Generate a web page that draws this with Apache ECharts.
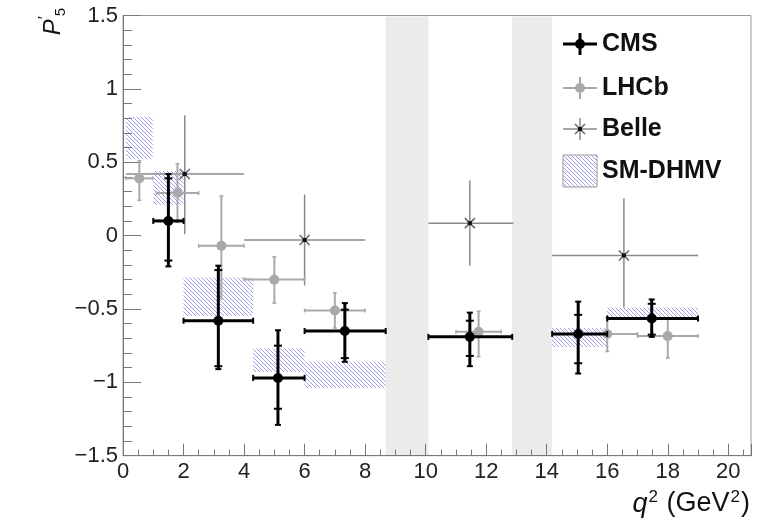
<!DOCTYPE html>
<html>
<head>
<meta charset="utf-8">
<script src="https://cdn.jsdelivr.net/npm/echarts@6/dist/echarts.min.js"></script>
<style>
  html, body { margin: 0; padding: 0; background: #fff; }
  #chart { width: 763px; height: 519px; }
</style>
</head>
<body>
<div id="chart"></div>
<script>
const FONT = '"Liberation Sans", Arial, Helvetica, sans-serif';

// Excluded q^2 regions (J/psi and psi(2S) resonances)
const vetoLo = [8.68, 12.86];
const vetoHi = [10.09, 14.18];

// CMS: mean q^2 in bin, bin edges, P5', statistical and total uncertainties
const cmsQ2     = [1.50, 3.15, 5.12, 7.33, 11.46, 15.04, 17.47];
const cmsLo     = [1.00, 2.00, 4.30, 6.00, 10.09, 14.18, 16.00];
const cmsHi     = [2.00, 4.30, 6.00, 8.68, 12.86, 16.00, 19.00];
const cmsP5     = [0.10, -0.58, -0.97, -0.65, -0.69, -0.67, -0.565];
const cmsStatUp = [0.29, 0.345, 0.22, 0.145, 0.11, 0.13, 0.10];
const cmsStatDn = [0.27, 0.31, 0.21, 0.185, 0.13, 0.20, 0.11];
const cmsTotUp  = [0.32, 0.375, 0.325, 0.19, 0.165, 0.22, 0.13];
const cmsTotDn  = [0.31, 0.33, 0.32, 0.21, 0.20, 0.27, 0.125];

// LHCb
const lhcbQ2 = [0.54, 1.80, 3.25, 5.00, 7.00, 11.75, 16.00, 18.00];
const lhcbLo = [0.10, 1.10, 2.50, 4.00, 6.00, 11.00, 15.00, 17.00];
const lhcbHi = [0.98, 2.50, 4.00, 6.00, 8.00, 12.50, 17.00, 19.00];
const lhcbP5 = [0.39, 0.29, -0.07, -0.30, -0.51, -0.655, -0.67, -0.685];
const lhcbUp = [0.12, 0.20, 0.34, 0.155, 0.12, 0.14, 0.11, 0.12];
const lhcbDn = [0.15, 0.20, 0.36, 0.16, 0.12, 0.17, 0.12, 0.15];

// Belle
const belleQ2 = [2.04, 6.00, 11.46, 16.55];
const belleLo = [0.10, 4.00, 10.09, 14.18];
const belleHi = [4.00, 8.00, 12.90, 19.00];
const belleP5 = [0.42, -0.03, 0.085, -0.135];
const belleUp = [0.40, 0.31, 0.29, 0.39];
const belleDn = [0.41, 0.31, 0.29, 0.355];

// SM prediction (DHMV): bin edges and band limits
const smLo  = [0.10, 1.00, 2.00, 4.30, 6.00, 14.18, 16.00];
const smHi  = [0.98, 2.00, 4.30, 6.00, 8.68, 16.00, 19.00];
const smMin = [0.52, 0.21, -0.548, -0.93, -1.04, -0.76, -0.575];
const smMax = [0.81, 0.44, -0.285, -0.77, -0.86, -0.63, -0.49];

// Axis ranges and tick steps
const xRange = [0, 20.75];
const yRange = [-1.5, 1.5];
const xMajor = 2, xMinor = 0.5, yMajor = 0.5;

const legendNames = ['CMS', 'LHCb', 'Belle', 'SM-DHMV'];

// diagonal blue hatch tile for the SM bands
function hatchTile() {
  const c = document.createElement('canvas');
  c.width = 4; c.height = 4;
  const g = c.getContext('2d');
  g.strokeStyle = 'rgba(95,95,220,0.6)';
  g.lineWidth = 1;
  g.beginPath();
  g.moveTo(-1, -1); g.lineTo(5, 5);
  g.moveTo(-1, 3); g.lineTo(1, 5);
  g.moveTo(3, -1); g.lineTo(5, 1);
  g.stroke();
  return c;
}
const hatch = { image: hatchTile(), repeat: 'repeat' };

function seg(x1, y1, x2, y2, color, w) {
  return { type: 'line', shape: { x1, y1, x2, y2 }, style: { stroke: color, lineWidth: w } };
}

function vetoItem(params, api) {
  const cs = params.coordSys;
  const x0 = api.coord([api.value(0), 0])[0];
  const x1 = api.coord([api.value(1), 0])[0];
  return { type: 'rect', shape: { x: x0, y: cs.y + 1, width: x1 - x0, height: cs.height - 1 },
           style: { fill: '#ebebeb' } };
}

function smItem(params, api) {
  const p0 = api.coord([api.value(0), api.value(3)]);
  const p1 = api.coord([api.value(1), api.value(2)]);
  return { type: 'rect', shape: { x: p0[0], y: p0[1], width: p1[0] - p0[0], height: p1[1] - p0[1] },
           style: { fill: hatch } };
}

// CMS row: [q2, P5, lo, hi, statUp, statDn, totUp, totDn]
function cmsItem(params, api) {
  const x = api.value(0), y = api.value(1);
  const c = api.coord([x, y]);
  const xl = api.coord([api.value(2), y])[0];
  const xr = api.coord([api.value(3), y])[0];
  const st = api.coord([x, y + api.value(4)])[1];
  const sb = api.coord([x, y - api.value(5)])[1];
  const yt = api.coord([x, y + api.value(6)])[1];
  const yb = api.coord([x, y - api.value(7)])[1];
  const k = '#000';
  return { type: 'group', children: [
    seg(xl, c[1], xr, c[1], k, 3),
    seg(c[0], yt, c[0], yb, k, 3),
    seg(xl, c[1] - 3, xl, c[1] + 3, k, 2),
    seg(xr, c[1] - 3, xr, c[1] + 3, k, 2),
    seg(c[0] - 3, yt, c[0] + 3, yt, k, 2),
    seg(c[0] - 3, yb, c[0] + 3, yb, k, 2),
    seg(c[0] - 4, st, c[0] + 4, st, k, 2),
    seg(c[0] - 4, sb, c[0] + 4, sb, k, 2),
    { type: 'circle', shape: { cx: c[0], cy: c[1], r: 5 }, style: { fill: k } }
  ] };
}

// LHCb row: [q2, P5, lo, hi, up, dn]
function lhcbItem(params, api) {
  const x = api.value(0), y = api.value(1);
  const c = api.coord([x, y]);
  const xl = api.coord([api.value(2), y])[0];
  const xr = api.coord([api.value(3), y])[0];
  const yt = api.coord([x, y + api.value(4)])[1];
  const yb = api.coord([x, y - api.value(5)])[1];
  const g = '#a9a9a9';
  return { type: 'group', children: [
    seg(xl, c[1], xr, c[1], g, 2),
    seg(c[0], yt, c[0], yb, g, 2),
    seg(xl, c[1] - 2, xl, c[1] + 2, g, 1.5),
    seg(xr, c[1] - 2, xr, c[1] + 2, g, 1.5),
    seg(c[0] - 2, yt, c[0] + 2, yt, g, 1.5),
    seg(c[0] - 2, yb, c[0] + 2, yb, g, 1.5),
    { type: 'circle', shape: { cx: c[0], cy: c[1], r: 5 }, style: { fill: g } }
  ] };
}

// Belle row: [q2, P5, lo, hi, up, dn]
function belleItem(params, api) {
  const x = api.value(0), y = api.value(1);
  const c = api.coord([x, y]);
  const xl = api.coord([api.value(2), y])[0];
  const xr = api.coord([api.value(3), y])[0];
  const yt = api.coord([x, y + api.value(4)])[1];
  const yb = api.coord([x, y - api.value(5)])[1];
  const g = '#8a8a8a', d = '#666';
  return { type: 'group', children: [
    seg(xl, c[1], xr, c[1], g, 1.5),
    seg(c[0], yt, c[0], yb, g, 1.5),
    seg(c[0] - 5, c[1] - 5, c[0] + 5, c[1] + 5, d, 1.5),
    seg(c[0] - 5, c[1] + 5, c[0] + 5, c[1] - 5, d, 1.5),
    { type: 'rect', shape: { x: c[0] - 2, y: c[1] - 2, width: 4, height: 4 }, style: { fill: '#111' } }
  ] };
}

const vetoData = vetoLo.map((v, i) => [v, vetoHi[i]]);
const smData = smLo.map((v, i) => [v, smHi[i], smMin[i], smMax[i]]);
const cmsData = cmsQ2.map((v, i) => [v, cmsP5[i], cmsLo[i], cmsHi[i],
  cmsStatUp[i], cmsStatDn[i], cmsTotUp[i], cmsTotDn[i]]);
const lhcbData = lhcbQ2.map((v, i) => [v, lhcbP5[i], lhcbLo[i], lhcbHi[i], lhcbUp[i], lhcbDn[i]]);
const belleData = belleQ2.map((v, i) => [v, belleP5[i], belleLo[i], belleHi[i], belleUp[i], belleDn[i]]);

// legend drawn as graphic elements (cross-shaped markers with error bars)
const LX0 = 563, LX1 = 597, LXC = 580, LTX = 602;
const legendY = [44, 88, 129, 171];
const legendGraphics = [
  seg(LX0, legendY[0], LX1, legendY[0], '#000', 3),
  seg(LXC, legendY[0] - 11, LXC, legendY[0] + 11, '#000', 3),
  { type: 'circle', shape: { cx: LXC, cy: legendY[0], r: 5 }, style: { fill: '#000' } },
  seg(LX0, legendY[1], LX1, legendY[1], '#a9a9a9', 2),
  seg(LXC, legendY[1] - 11, LXC, legendY[1] + 11, '#a9a9a9', 2),
  { type: 'circle', shape: { cx: LXC, cy: legendY[1], r: 5 }, style: { fill: '#a9a9a9' } },
  seg(LX0, legendY[2], LX1, legendY[2], '#8a8a8a', 1.5),
  seg(LXC, legendY[2] - 11, LXC, legendY[2] + 11, '#8a8a8a', 1.5),
  seg(LXC - 5, legendY[2] - 5, LXC + 5, legendY[2] + 5, '#666', 1.5),
  seg(LXC - 5, legendY[2] + 5, LXC + 5, legendY[2] - 5, '#666', 1.5),
  { type: 'rect', shape: { x: LXC - 2, y: legendY[2] - 2, width: 4, height: 4 }, style: { fill: '#111' } },
  { type: 'rect', shape: { x: LX0, y: legendY[3] - 16, width: LX1 - LX0, height: 32 },
    style: { fill: hatch, stroke: '#999', lineWidth: 1 } }
].map(e => Object.assign(e, { z: 10 }));
legendNames.forEach((name, i) => {
  legendGraphics.push({ type: 'text', x: LTX, y: legendY[i], z: 10,
    style: { text: name, font: 'bold 25px ' + FONT, fill: '#111', verticalAlign: 'middle', align: 'left' } });
});

// axis titles
legendGraphics.push({
  type: 'text', x: 53, y: 8, rotation: Math.PI / 2, z: 10,
  style: {
    text: '{p|P}{u|\u2032}{d|5}', align: 'right', verticalAlign: 'middle',
    rich: {
      p: { font: 'italic 24px ' + FONT, fill: '#111', lineHeight: 30 },
      u: { font: '16px ' + FONT, fill: '#111', verticalAlign: 'top', lineHeight: 16 },
      d: { font: '15px ' + FONT, fill: '#111', verticalAlign: 'bottom', lineHeight: 15 }
    }
  }
});
legendGraphics.push({
  type: 'text', x: 750, y: 504, z: 10,
  style: {
    text: '{q|q}{s|2}{t| (GeV}{s|2}{t|)}', align: 'right', verticalAlign: 'middle',
    rich: {
      q: { font: 'italic 27px ' + FONT, fill: '#111', lineHeight: 30 },
      t: { font: '27px ' + FONT, fill: '#111', lineHeight: 30 },
      s: { font: '17px ' + FONT, fill: '#111', verticalAlign: 'top', lineHeight: 18, padding: [0, 1, 0, 1] }
    }
  }
});

const minus = v => String(v).replace('-', '\u2212');

const chart = echarts.init(document.getElementById('chart'), null, { renderer: 'canvas' });
chart.setOption({
  animation: false,
  backgroundColor: '#fff',
  grid: { left: 123, right: 12, top: 15.5, bottom: 63.3, show: true, borderColor: '#999', borderWidth: 1 },
  xAxis: [
    {
      type: 'value', min: xRange[0], max: xRange[1], interval: xMajor, position: 'bottom',
      axisLine: { show: true, onZero: false, lineStyle: { color: '#777', width: 1 } },
      axisTick: { show: true, inside: true, length: 12, lineStyle: { color: '#777' } },
      axisLabel: { show: true, margin: 5, fontFamily: FONT, fontSize: 22, color: '#222',
        formatter: v => (Math.abs(v % xMajor) < 1e-9 ? String(v) : '') },
      splitLine: { show: false }
    },
    {
      type: 'value', min: xRange[0], max: xRange[1], interval: xMinor, position: 'bottom',
      axisLine: { show: false, onZero: false },
      axisTick: { show: true, inside: true, length: 6, lineStyle: { color: '#777' } },
      axisLabel: { show: false },
      splitLine: { show: false }
    }
  ],
  yAxis: {
    type: 'value', min: yRange[0], max: yRange[1], interval: yMajor,
    axisLine: { show: true, onZero: false, lineStyle: { color: '#777', width: 1 } },
    axisTick: { show: true, inside: true, length: 18, lineStyle: { color: '#777' } },
    minorTick: { show: true, splitNumber: 5, length: 9, lineStyle: { color: '#777' } },
    axisLabel: { margin: 5, fontFamily: FONT, fontSize: 22, color: '#222', formatter: minus },
    splitLine: { show: false }
  },
  graphic: legendGraphics,
  series: [
    { type: 'custom', name: 'veto', z: -1, renderItem: vetoItem, data: vetoData, silent: true },
    { type: 'custom', name: 'SM-DHMV', z: 2, renderItem: smItem, data: smData },
    { type: 'custom', name: 'Belle', z: 3, renderItem: belleItem, data: belleData },
    { type: 'custom', name: 'LHCb', z: 4, renderItem: lhcbItem, data: lhcbData },
    { type: 'custom', name: 'CMS', z: 5, renderItem: cmsItem, data: cmsData }
  ]
});
</script>
</body>
</html>
